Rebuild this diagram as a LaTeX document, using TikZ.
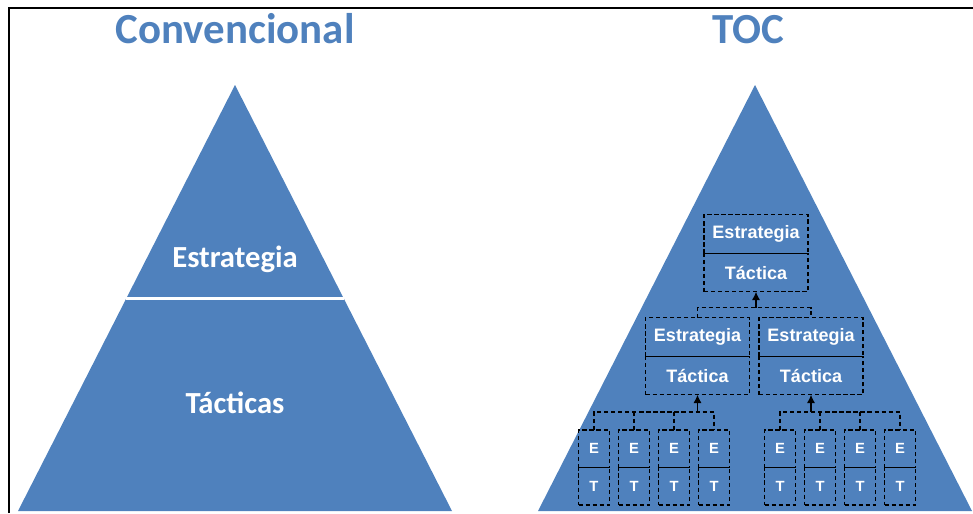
\documentclass[tikz,border=0pt]{standalone}
\usepackage{fontspec}
\setmainfont{Liberation Sans}
\newfontfamily\calibri{Carlito}
\usepackage{xcolor}
\usetikzlibrary{arrows.meta, positioning, calc}
\definecolor{pyrblue}{RGB}{79,129,189}

\begin{document}
\begin{tikzpicture}[
    x=0.025cm, y=-0.025cm,
    title/.style={text=pyrblue, font=\calibri\bfseries\fontsize{30.5}{36}\selectfont, anchor=base},
    level/.style={text=white, font=\calibri\bfseries\fontsize{21.8}{26}\selectfont, anchor=base},
    bigbox/.style={rectangle, draw, dash pattern=on 3pt off 2pt, line width=1pt, minimum width=2.6cm, minimum height=0.9625cm, inner sep=0pt, outer sep=0pt, text=white, font=\bfseries\fontsize{12.8}{14}\selectfont},
    smallbox/.style={bigbox, minimum width=0.775cm, minimum height=0.9375cm, font=\bfseries\fontsize{10.5}{12}\selectfont},
    bracket/.style={draw, dash pattern=on 3pt off 2pt, line width=1pt},
    arrow/.style={-{Latex[length=6pt,width=6pt]}, line width=1pt}
]
\useasboundingbox (0,0) rectangle (973,513);

% frame
\draw[line width=1.5pt] (9,513) -- (9,8) -- (973,8);

% titles
\node[title] (conv) at (235,44) {Convencional};
\node[title] (toc) at (748,44) {TOC};

% conventional pyramid
\coordinate (la) at (235,85);
\coordinate (lb) at (18,511);
\coordinate (lc) at (452,511);
\fill[pyrblue] (la) -- (lb) -- (lc) -- cycle;
\draw[white, line width=2.2pt] ($(la)!0.501!(lb)$) -- ($(la)!0.501!(lc)$);
\node[level] (estr) at (235,267) {Estrategia};
\node[level] (tact) at (235,413) {Tácticas};

% TOC pyramid
\coordinate (ra) at (755,85);
\coordinate (rb) at (538,511);
\coordinate (rc) at (972,511);
\fill[pyrblue] (ra) -- (rb) -- (rc) -- cycle;

% top level
\node[bigbox] (topE) at (756,234) {Estrategia};
\node[bigbox, below=0pt of topE] (topT) {Táctica};

% second level
\node[bigbox] (leftE) at (697.5,337) {Estrategia};
\node[bigbox, below=0pt of leftE] (leftT) {Táctica};
\node[bigbox] (rightE) at (811,337) {Estrategia};
\node[bigbox, below=0pt of rightE] (rightT) {Táctica};

% third level
\node[smallbox] (e1) at (594,448.75) {E};
\node[smallbox, right=0.225cm of e1] (e2) {E};
\node[smallbox, right=0.225cm of e2] (e3) {E};
\node[smallbox, right=0.225cm of e3] (e4) {E};
\node[smallbox] (e5) at (780,448.75) {E};
\node[smallbox, right=0.225cm of e5] (e6) {E};
\node[smallbox, right=0.225cm of e6] (e7) {E};
\node[smallbox, right=0.225cm of e7] (e8) {E};
\node[smallbox, below=0pt of e1] (t1) {T};
\node[smallbox, below=0pt of e2] (t2) {T};
\node[smallbox, below=0pt of e3] (t3) {T};
\node[smallbox, below=0pt of e4] (t4) {T};
\node[smallbox, below=0pt of e5] (t5) {T};
\node[smallbox, below=0pt of e6] (t6) {T};
\node[smallbox, below=0pt of e7] (t7) {T};
\node[smallbox, below=0pt of e8] (t8) {T};

% brackets and arrows
\draw[bracket] (leftE.north) -- ++(0,-10) coordinate (b0) -| (rightE.north);
\draw[arrow] (topT.south |- b0) -- (topT.south);

\draw[bracket] (e1.north) -- ++(0,-18) coordinate (b1) -| (e4.north);
\draw[bracket] (e2.north) -- ++(0,-18);
\draw[bracket] (e3.north) -- ++(0,-18);
\draw[arrow] (leftT.south |- b1) -- (leftT.south);

\draw[bracket] (e5.north) -- ++(0,-18) coordinate (b2) -| (e8.north);
\draw[bracket] (e6.north) -- ++(0,-18);
\draw[bracket] (e7.north) -- ++(0,-18);
\draw[arrow] (rightT.south |- b2) -- (rightT.south);

\end{tikzpicture}
\end{document}
